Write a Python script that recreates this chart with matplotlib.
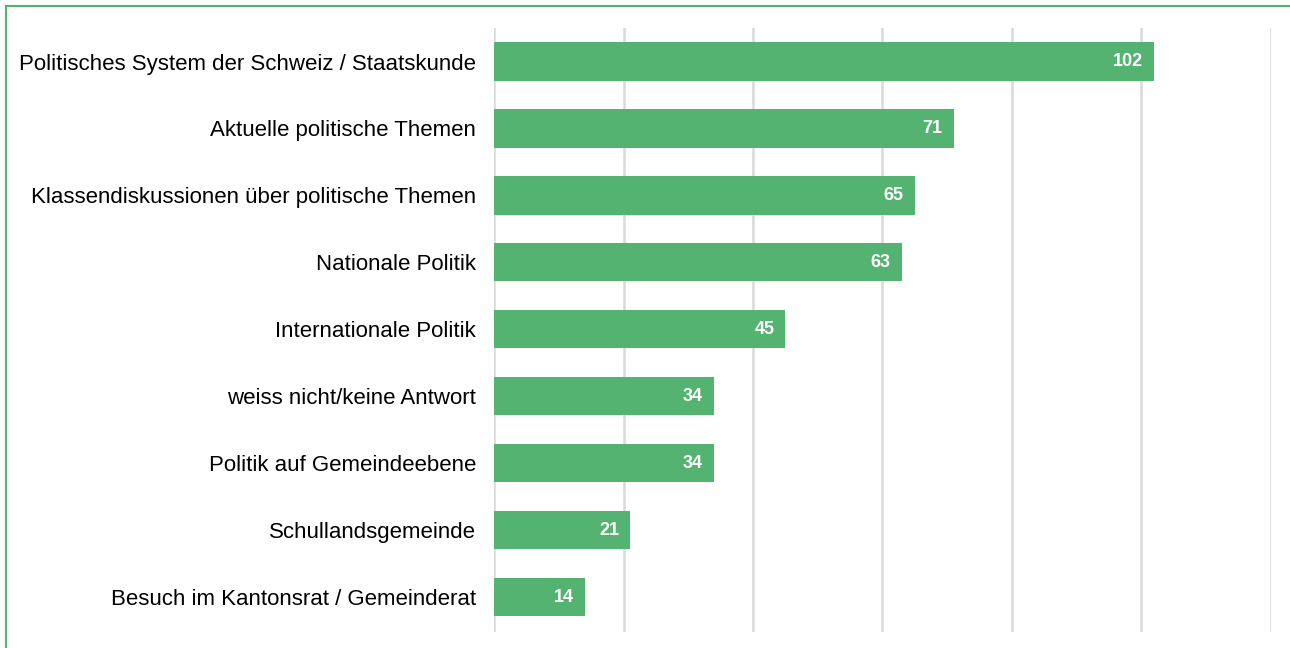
import matplotlib
matplotlib.use("Agg")
from matplotlib import pyplot as plt
from matplotlib.patches import Rectangle

# Categories top to bottom and their counts
categories = [
    "Politisches System der Schweiz / Staatskunde",
    "Aktuelle politische Themen",
    "Klassendiskussionen über politische Themen",
    "Nationale Politik",
    "Internationale Politik",
    "weiss nicht/keine Antwort",
    "Politik auf Gemeindeebene",
    "Schullandsgemeinde",
    "Besuch im Kantonsrat / Gemeinderat",
]
counts = [102, 71, 65, 63, 45, 34, 34, 21, 14]
grid_ticks = [0, 20, 40, 60, 80, 100, 120]

green = "#55B371"
plt.rcParams['font.family'] = ['Liberation Sans', 'DejaVu Sans']

fig = plt.figure(figsize=(12.9, 6.48), dpi=100)
ax = fig.add_axes([0.383, 0.0247, 0.602, 0.932])

ypos = list(range(len(categories)))
ax.barh(ypos, counts, height=0.57, color=green, zorder=3)
for y, v in zip(ypos, counts):
    ax.text(v - 1.7, y, str(v), ha="right", va="center", color="white",
            fontsize=13, fontweight="bold", zorder=4)

ax.set_xlim(0, 120)
ax.set_ylim(len(categories) - 0.48, -0.5)
ax.set_xticks(grid_ticks)
ax.set_xticklabels([])
ax.set_yticks(ypos)
ax.set_yticklabels(categories, fontsize=16)
ax.tick_params(axis="both", length=0)
ax.tick_params(axis="y", pad=13)
ax.grid(axis="x", color="#D9D9D9", linewidth=1.8, zorder=0)
for s in ax.spines.values():
    s.set_visible(False)

# green frame around the chart
fig.patches.append(Rectangle((5.5 / 1290, -0.1), 1.2, 1 - 6.5 / 648 + 0.1,
                             transform=fig.transFigure, fill=False,
                             edgecolor=green, linewidth=1.5))

fig.savefig("out.png", dpi=100)
